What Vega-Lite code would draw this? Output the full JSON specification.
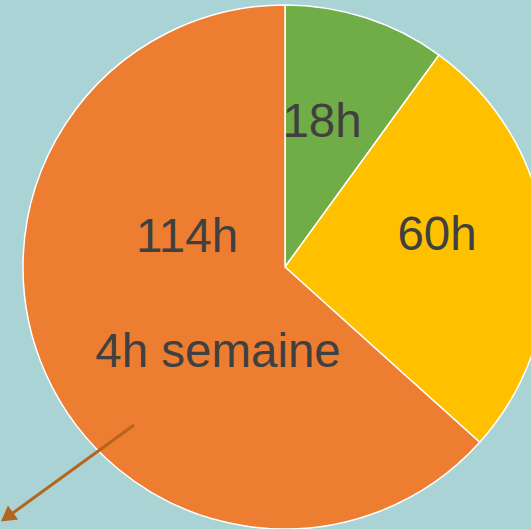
{
  "$schema": "https://vega.github.io/schema/vega-lite/v6.json",
  "width": 492,
  "height": 524,
  "autosize": {"type": "none"},
  "padding": {"left": 39, "top": 5, "right": 0, "bottom": 0},
  "background": "#aad3d5",
  "config": {"view": {"stroke": null}},
  "datasets": {
    "slices": [
      {"slice": "A", "hours": 18, "order": 1},
      {"slice": "B", "hours": 48, "order": 2},
      {"slice": "C", "hours": 114, "order": 3}
    ],
    "labels": [
      {"text": "18h", "px": 37, "py": 130},
      {"text": "60h", "px": 152, "py": 17},
      {"text": "114h", "px": -98, "py": 15},
      {"text": "4h semaine", "px": -67, "py": -100}
    ],
    "arrow": [
      {"x1": -151, "y1": -158, "x2": -279, "y2": -251}
    ],
    "head": [
      {"hx": -278, "hy": -250}
    ]
  },
  "layer": [
    {
      "data": {"name": "slices"},
      "mark": {"type": "arc", "outerRadius": 262, "stroke": "#ffffff", "strokeWidth": 1.5},
      "encoding": {
        "theta": {"field": "hours", "type": "quantitative", "stack": true},
        "order": {"field": "order", "type": "quantitative"},
        "color": {
          "field": "slice",
          "type": "nominal",
          "scale": {"domain": ["A", "B", "C"], "range": ["#70ad47", "#ffc000", "#ed7d31"]},
          "legend": null
        }
      }
    },
    {
      "data": {"name": "labels"},
      "mark": {"type": "text", "font": "Liberation Sans", "fontSize": 47.5, "color": "#404040", "align": "center", "baseline": "alphabetic"},
      "encoding": {
        "x": {"field": "px", "type": "quantitative", "scale": {"domain": [-246, 246], "nice": false, "zero": false}, "axis": null},
        "y": {"field": "py", "type": "quantitative", "scale": {"domain": [-262, 262], "nice": false, "zero": false}, "axis": null},
        "text": {"field": "text"}
      }
    },
    {
      "data": {"name": "arrow"},
      "mark": {"type": "rule", "color": "#b5651d", "strokeWidth": 3},
      "encoding": {
        "x": {"field": "x1", "type": "quantitative"},
        "y": {"field": "y1", "type": "quantitative"},
        "x2": {"field": "x2"},
        "y2": {"field": "y2"}
      }
    },
    {
      "data": {"name": "head"},
      "mark": {"type": "point", "shape": "triangle-up", "filled": true, "color": "#b5651d", "opacity": 1, "size": 300, "angle": 234},
      "encoding": {
        "x": {"field": "hx", "type": "quantitative"},
        "y": {"field": "hy", "type": "quantitative"}
      }
    }
  ]
}
